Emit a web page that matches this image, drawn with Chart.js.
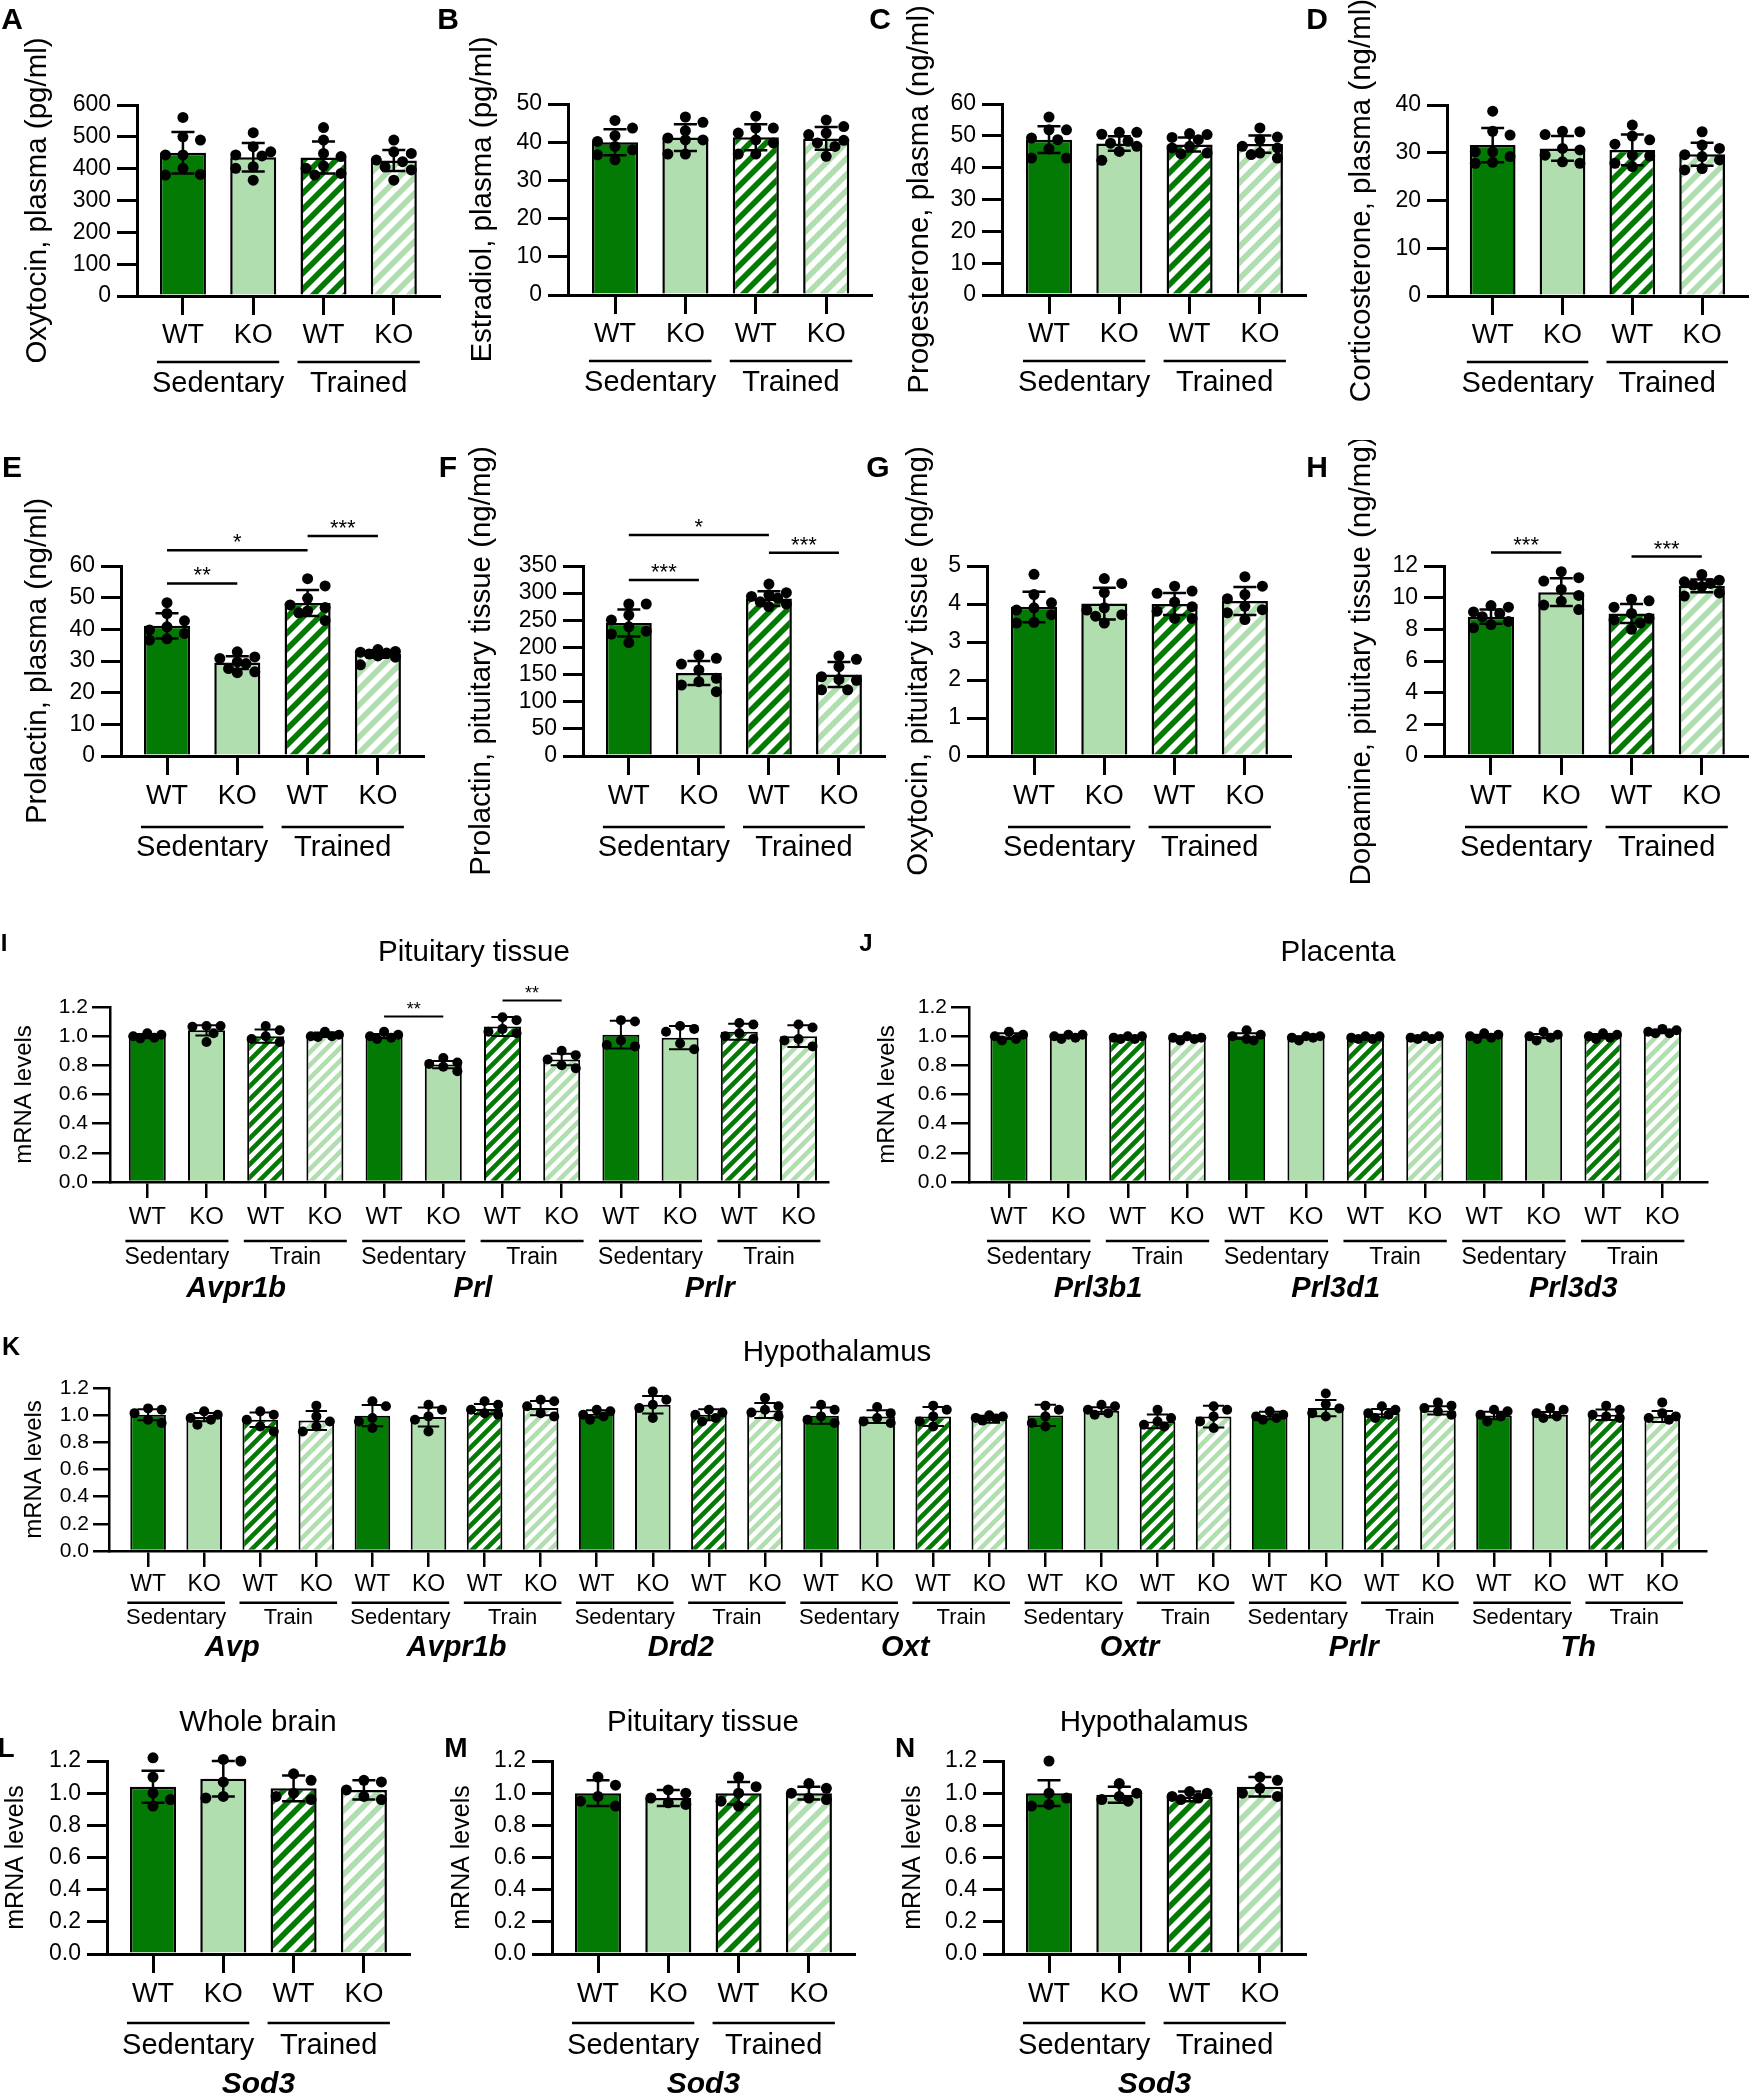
<!DOCTYPE html>
<html><head><meta charset="utf-8">
<script src="https://cdn.jsdelivr.net/npm/chart.js@4.4.1/dist/chart.umd.min.js"></script>
<style>
html,body{margin:0;padding:0;background:#fff;}
body{position:relative;width:1753px;height:2100px;overflow:hidden;}
canvas{position:absolute;}
.letter{position:absolute;font-family:'Liberation Sans',Arial,sans-serif;font-weight:bold;line-height:1;transform:translate(-50%,-50%);color:#000;}
</style></head><body>
<script>
// ------------------------- DATA -------------------------
const GENOTYPES = ['WT', 'KO', 'WT', 'KO'];
const TRAINING = ['Sedentary', 'Trained'];
const TRAINING_SHORT = ['Sedentary', 'Train'];

// A  Oxytocin, plasma (pg/ml)
const oxytocinPlasmaMean = [450, 436, 435, 426];
const oxytocinPlasmaSD = [65, 45, 50, 33];
const oxytocinPlasmaPoints = [[561,500,490,443,443,401,380,382],[513,469,453,443,440,406,401,364],[529,490,448,438,409,401,385,380],[490,453,448,427,422,406,396,364]];
// B  Estradiol, plasma (pg/ml)
const estradiolMean = [40.0, 41.2, 41.3, 41.0];
const estradiolSD = [3.4, 3.5, 3.4, 3.0];
const estradiolPoints = [[45.7,43.7,41.7,40.2,38.9,38.0,36.7,35.4],[46.6,45.2,43.0,41.1,40.6,40.6,36.9,36.9],[46.8,43.7,43.7,42.4,40.6,39.8,36.9,36.9],[45.8,44.1,42.4,42.0,40.5,39.8,38.9,36.3]];
// C  Progesterone, plasma (ng/ml)
const progesteroneMean = [48.8, 47.6, 47.3, 47.4];
const progesteroneSD = [4.2, 2.3, 2.2, 2.7];
const progesteronePoints = [[55.9,51.9,51.9,49.3,48.8,45.9,43.0,43.0],[51.1,51.1,50.5,48.3,47.7,46.7,45.1,42.3],[50.7,50.4,49.5,48.8,46.7,46.2,44.6,44.4],[52.5,49.6,48.8,46.7,46.2,44.6,44.1,43.0]];
// D  Corticosterone, plasma (ng/ml)
const corticosteroneMean = [31.6, 30.9, 30.6, 29.7];
const corticosteroneSD = [3.6, 2.6, 3.2, 2.4];
const corticosteronePoints = [[38.7,34.5,33.7,30.2,30.2,29.2,28.0,27.8],[34.5,34.4,33.8,30.9,30.6,29.5,28.1,27.8],[35.8,33.5,32.7,31.8,29.5,29.3,27.8,27.1],[34.4,31.6,30.9,29.6,29.2,28.5,26.7,26.4]];
// E  Prolactin, plasma (ng/ml)
const prolactinPlasmaMean = [41.1, 29.5, 48.3, 32.2];
const prolactinPlasmaSD = [4.0, 2.0, 4.1, 1.2];
const prolactinPlasmaPoints = [[48.4,45.0,42.7,40.8,39.8,38.7,37.0,36.6],[32.9,31.3,30.8,29.7,29.2,27.6,26.6,26.3],[56.0,53.7,49.8,47.7,46.9,45.8,45.2,42.8],[33.6,33.0,32.8,32.5,32.2,31.6,31.2,28.8]];
const prolactinPlasmaSig = [{from:0,to:1,level:54.5,label:'**'},{from:0,to:2,level:65,label:'*'},{from:2,to:3,level:69.5,label:'***'}];
// F  Prolactin, pituitary tissue (ng/mg)
const prolactinPituitaryMean = [245, 153, 290, 150];
const prolactinPituitarySD = [25, 22, 13.5, 23];
const prolactinPituitaryPoints = [[280,280,259.7,250.5,238,230,224.7,208.7],[186,180,169.4,158.4,143,137,130.8,118.5],[316.8,300.8,297,294,291,284,280,275],[184,178,164.5,146,141,139.4,122,122]];
const prolactinPituitarySig = [{from:0,to:1,level:324,label:'***'},{from:0,to:2,level:407,label:'*'},{from:2,to:3,level:374.5,label:'***'}];
// G  Oxytocin, pituitary tissue (ng/mg)
const oxytocinPituitaryMean = [3.92, 4.01, 4.0, 4.08];
const oxytocinPituitarySD = [0.4, 0.42, 0.29, 0.37];
const oxytocinPituitaryPoints = [[4.78,4.25,4.03,3.90,3.84,3.72,3.52,3.50],[4.67,4.54,4.30,3.90,3.84,3.72,3.68,3.50],[4.47,4.34,4.28,4.05,3.93,3.81,3.62,3.62],[4.72,4.47,4.25,4.14,3.94,3.85,3.77,3.59]];
// H  Dopamine, pituitary tissue (ng/mg)
const dopamineMean = [8.8, 10.35, 9.0, 10.75];
const dopamineSD = [0.45, 0.88, 0.6, 0.4];
const dopaminePoints = [[9.5,9.4,9.1,9.0,8.8,8.5,8.3,8.1],[11.64,11.26,11.05,10.52,10.14,9.78,9.53,9.25],[9.9,9.8,9.4,9.0,8.7,8.6,8.4,8.0],[11.47,11.1,11.0,10.9,10.8,10.7,10.3,10.1]];
const dopamineSig = [{from:0,to:1,level:12.85,label:'***'},{from:2,to:3,level:12.6,label:'***'}];
// I  Pituitary tissue mRNA
const pituitaryGenes = ['Avpr1b', 'Prl', 'Prlr'];
const pituitaryMean = [1.0, 1.04, 1.0, 1.01, 1.0, 0.805, 1.067, 0.84, 1.01, 0.99, 1.03, 1.0];
const pituitarySD = [0.015, 0.035, 0.045, 0.015, 0.015, 0.025, 0.065, 0.04, 0.095, 0.08, 0.055, 0.075];
const pituitaryPoints = [[1.02,1.01,1.0,0.99,0.985],[1.07,1.07,1.065,1.02,0.96],[1.07,1.04,1.0,0.98,0.96],[1.03,1.01,1.0,1.0,0.995],[1.03,1.01,1.0,0.99,0.98],[0.85,0.82,0.81,0.79,0.76],[1.13,1.11,1.05,1.03,1.02],[0.9,0.87,0.84,0.8,0.78],[1.11,1.1,0.97,0.94,0.93],[1.07,1.05,1.03,0.95,0.91],[1.09,1.08,1.02,1.0,0.98],[1.08,1.06,0.98,0.97,0.93]];
const pituitarySig = [{from:4,to:5,level:1.135,label:'**'},{from:6,to:7,level:1.245,label:'**'}];
// J  Placenta mRNA
const placentaGenes = ['Prl3b1', 'Prl3d1', 'Prl3d3'];
const placentaMean = [1.0, 1.0, 0.99, 0.99, 1.0, 0.99, 0.99, 0.99, 1.0, 1.0, 1.0, 1.03];
const placentaSD = [0.02, 0.01, 0.01, 0.01, 0.02, 0.01, 0.01, 0.01, 0.01, 0.015, 0.015, 0.01];
const placentaPoints = [[1.03,1.01,1.0,0.98,0.97],[1.01,1.01,1.0,0.99,0.98],[1.0,1.0,0.99,0.98,0.98],[1.0,0.99,0.99,0.98,0.97],[1.04,1.01,1.0,0.98,0.97],[1.0,1.0,0.99,0.99,0.97],[1.0,1.0,0.99,0.98,0.98],[1.0,1.0,0.99,0.98,0.98],[1.02,1.01,1.0,0.99,0.98],[1.03,1.01,1.0,0.99,0.97],[1.02,1.01,1.0,0.99,0.98],[1.05,1.04,1.03,1.02,1.02]];
// K  Hypothalamus mRNA
const hypothalamusGenes = ['Avp', 'Avpr1b', 'Drd2', 'Oxt', 'Oxtr', 'Prlr', 'Th'];
const hypothalamusMean = [1.003,0.986,0.966,0.961, 0.996,0.986,1.045,1.052, 1.01,1.077,1.003,1.035, 0.996,0.99,0.99,0.97, 0.998,1.033,0.954,0.99, 0.998,1.052,1.015,1.035, 0.998,1.003,1.003,0.99];
const hypothalamusSD = [0.04,0.03,0.054,0.07, 0.078,0.07,0.037,0.052, 0.027,0.065,0.04,0.055, 0.06,0.047,0.07,0.025, 0.078,0.025,0.05,0.08, 0.028,0.06,0.03,0.03, 0.028,0.02,0.038,0.04];
const hypothalamusPoints = [[1.05,1.04,1.015,0.966,0.942],[1.028,1.003,0.979,0.966,0.929],[1.028,1.003,0.966,0.917,0.88],[1.07,0.991,0.954,0.917,0.88],
 [1.102,1.065,0.979,0.954,0.905],[1.077,1.04,0.991,0.966,0.88],[1.102,1.077,1.04,1.015,1.003],[1.114,1.102,1.065,1.015,0.991],
 [1.04,1.028,1.003,0.991,0.966],[1.175,1.114,1.077,1.052,0.979],[1.04,1.02,1.003,0.979,0.954],[1.126,1.065,1.04,1.02,0.991],
 [1.077,1.04,0.991,0.966,0.942],[1.06,1.015,0.979,0.954,0.942],[1.07,1.04,0.991,0.954,0.917],[1.0,0.99,0.98,0.975,0.96],
 [1.07,1.04,0.991,0.942,0.917],[1.077,1.065,1.04,1.015,1.003],[1.04,0.979,0.954,0.929,0.917],[1.065,1.04,0.991,0.954,0.905],
 [1.028,1.003,0.991,0.979,0.966],[1.16,1.08,1.05,1.015,0.99],[1.065,1.04,1.015,1.003,0.979],[1.094,1.07,1.052,1.028,1.003],
 [1.04,1.028,1.003,0.991,0.954],[1.052,1.04,1.015,0.991,0.979],[1.07,1.04,1.003,0.991,0.979],[1.094,1.015,0.991,0.979,0.966]];
// L  Whole brain Sod3
const sod3BrainMean = [1.04, 1.09, 1.03, 1.02];
const sod3BrainSD = [0.1, 0.11, 0.08, 0.06];
const sod3BrainPoints = [[1.22,1.1,1.0,0.96,0.92],[1.21,1.2,1.07,0.98,0.97],[1.12,1.08,1.0,0.98,0.96],[1.08,1.07,1.02,0.98,0.96]];
// M  Pituitary tissue Sod3
const sod3PituitaryMean = [1.0, 0.97, 1.0, 1.0];
const sod3PituitarySD = [0.08, 0.05, 0.07, 0.04];
const sod3PituitaryPoints = [[1.1,1.05,0.98,0.95,0.92],[1.02,1.0,0.97,0.94,0.93],[1.1,1.04,1.0,0.95,0.92],[1.06,1.03,1.0,0.97,0.96]];
// N  Hypothalamus Sod3
const sod3HypothalamusMean = [1.0, 0.99, 0.98, 1.04];
const sod3HypothalamusSD = [0.08, 0.05, 0.03, 0.06];
const sod3HypothalamusPoints = [[1.2,1.0,0.97,0.93,0.92],[1.06,1.0,0.98,0.96,0.95],[1.01,1.0,0.98,0.97,0.96],[1.1,1.08,1.03,1.0,0.98]];

// ------------------------- STYLE / LAYOUT -------------------------
const FONT = "'Liberation Sans', Arial, Helvetica, sans-serif";
const DARK = '#037a03';
const LIGHT = '#b0deae';
const STYLE_HORMONE = {yFont:23, xFont:27, groupFont:29, geneFont:30, yTitleFont:29.5, titleFont:29.5, xTickLen:19, yTickLen:20, yTickPad:6, axisW:3, barBorder:2.5, errW:2.5, dotR:5.5, barPct:0.655, capFrac:0.5, groupExt:0.37, groupLineW:2.5, sigFont:22, sigW:2.5, hatch:16};
const STYLE_MRNA = {yFont:21, xFont:24, groupFont:23, geneFont:29, yTitleFont:24, titleFont:29.5, xTickLen:16, yTickLen:18, yTickPad:4, axisW:2.5, barBorder:2, errW:2, dotR:5, barPct:0.625, capFrac:0.6, groupExt:0.37, groupLineW:2.5, sigFont:18, sigW:2, hatch:13};
const STYLE_K = Object.assign({}, STYLE_MRNA, {xFont:23, groupFont:22, yTickLen:16, barPct:0.635});
const STYLE_SOD = Object.assign({}, STYLE_HORMONE, {yTitleFont:25});
const ROW1 = {labelC:40, line:66, group:88};
const ROW2 = {labelC:41, line:71, group:92};
const ROW5 = {labelC:41, line:69, group:92, gene:131};
const ROWIJ = {labelC:35, line:59, group:75.6, gene:106.6};
const ROWK = {labelC:34, line:51.7, group:67.3, gene:97.3};

function repeatList(arr, times) { const out = []; for (let i = 0; i < times; i++) out.push(...arr); return out; }

const panels = [
 {canvas:[0,0,445,420], axisX:137, firstX:183, spacing:70.4, gapR:0.65, topY:105, zeroY:296, yMax:600, yStep:100, yDec:0, yTitle:'Oxytocin, plasma (pg/ml)', yTitleX:38, mean:oxytocinPlasmaMean, sd:oxytocinPlasmaSD, points:oxytocinPlasmaPoints, xLabels:GENOTYPES, groups:TRAINING, offs:ROW1, style:STYLE_HORMONE},
 {canvas:[445,0,433,420], axisX:568, firstX:615, spacing:70.4, gapR:0.65, topY:104, zeroY:295, yMax:50, yStep:10, yDec:0, yTitle:'Estradiol, plasma (pg/ml)', yTitleX:483, mean:estradiolMean, sd:estradiolSD, points:estradiolPoints, xLabels:GENOTYPES, groups:TRAINING, offs:ROW1, style:STYLE_HORMONE},
 {canvas:[878,0,434,420], axisX:1002, firstX:1049, spacing:70.3, gapR:0.65, topY:104, zeroY:295, yMax:60, yStep:10, yDec:0, yTitle:'Progesterone, plasma (ng/ml)', yTitleX:920, mean:progesteroneMean, sd:progesteroneSD, points:progesteronePoints, xLabels:GENOTYPES, groups:TRAINING, offs:ROW1, style:STYLE_HORMONE},
 {canvas:[1312,0,441,420], axisX:1447, firstX:1493, spacing:70.3, gapR:0.65, topY:105, zeroY:296, yMax:40, yStep:10, yDec:0, yTitle:'Corticosterone, plasma (ng/ml)', yTitleX:1362, mean:corticosteroneMean, sd:corticosteroneSD, points:corticosteronePoints, xLabels:GENOTYPES, groups:TRAINING, offs:ROW1, style:STYLE_HORMONE},
 {canvas:[0,440,445,460], axisX:121, firstX:167, spacing:70.3, gapR:0.65, topY:566, zeroY:756, yMax:60, yStep:10, yDec:0, yTitle:'Prolactin, plasma (ng/ml)', yTitleX:38, mean:prolactinPlasmaMean, sd:prolactinPlasmaSD, points:prolactinPlasmaPoints, sig:prolactinPlasmaSig, xLabels:GENOTYPES, groups:TRAINING, offs:ROW2, style:STYLE_HORMONE},
 {canvas:[445,440,445,460], axisX:583, firstX:629, spacing:70.3, gapR:0.65, topY:566, zeroY:756, yMax:350, yStep:50, yDec:0, yTitle:'Prolactin, pituitary tissue (ng/mg)', yTitleX:482, mean:prolactinPituitaryMean, sd:prolactinPituitarySD, points:prolactinPituitaryPoints, sig:prolactinPituitarySig, xLabels:GENOTYPES, groups:TRAINING, offs:ROW2, style:STYLE_HORMONE},
 {canvas:[880,440,440,460], axisX:987, firstX:1034, spacing:70.3, gapR:0.65, topY:566, zeroY:756, yMax:5, yStep:1, yDec:0, yTitle:'Oxytocin, pituitary tissue (ng/mg)', yTitleX:919, mean:oxytocinPituitaryMean, sd:oxytocinPituitarySD, points:oxytocinPituitaryPoints, xLabels:GENOTYPES, groups:TRAINING, offs:ROW2, style:STYLE_HORMONE},
 {canvas:[1320,440,433,460], axisX:1444, firstX:1491, spacing:70.3, gapR:0.65, topY:566, zeroY:756, yMax:12, yStep:2, yDec:0, yTitle:'Dopamine, pituitary tissue (ng/mg)', yTitleX:1362, mean:dopamineMean, sd:dopamineSD, points:dopaminePoints, sig:dopamineSig, xLabels:GENOTYPES, groups:TRAINING, offs:ROW2, style:STYLE_HORMONE},
 {canvas:[0,920,850,400], axisX:110, firstX:147.3, spacing:59.2, gapR:0.5, topY:1007, zeroY:1182, yMax:1.2, yStep:0.2, yDec:1, yTitle:'mRNA levels', yTitleX:24, title:'Pituitary tissue', titleX:474, titleY:953, mean:pituitaryMean, sd:pituitarySD, points:pituitaryPoints, sig:pituitarySig, xLabels:repeatList(GENOTYPES,3), groups:repeatList(TRAINING_SHORT,3), genes:pituitaryGenes, offs:ROWIJ, style:STYLE_MRNA},
 {canvas:[850,920,903,400], axisX:969, firstX:1009, spacing:59.4, gapR:0.76, topY:1007, zeroY:1182, yMax:1.2, yStep:0.2, yDec:1, yTitle:'mRNA levels', yTitleX:887, title:'Placenta', titleX:1338, titleY:953, mean:placentaMean, sd:placentaSD, points:placentaPoints, xLabels:repeatList(GENOTYPES,3), groups:repeatList(TRAINING_SHORT,3), genes:placentaGenes, offs:ROWIJ, style:STYLE_MRNA},
 {canvas:[0,1320,1753,370], axisX:109, firstX:148.1, spacing:56.08, gapR:0.79, topY:1388, zeroY:1551, yMax:1.2, yStep:0.2, yDec:1, yTitle:'mRNA levels', yTitleX:34, title:'Hypothalamus', titleX:837, titleY:1353, mean:hypothalamusMean, sd:hypothalamusSD, points:hypothalamusPoints, xLabels:repeatList(GENOTYPES,7), groups:repeatList(TRAINING_SHORT,7), genes:hypothalamusGenes, offs:ROWK, style:STYLE_K},
 {canvas:[0,1690,445,410], axisX:107, firstX:153, spacing:70.3, gapR:0.65, topY:1761, zeroY:1954, yMax:1.2, yStep:0.2, yDec:1, yTitle:'mRNA levels', yTitleX:16, title:'Whole brain', titleX:258, titleY:1723, mean:sod3BrainMean, sd:sod3BrainSD, points:sod3BrainPoints, xLabels:GENOTYPES, groups:TRAINING, genes:['Sod3'], offs:ROW5, style:STYLE_SOD},
 {canvas:[445,1690,445,410], axisX:552, firstX:598, spacing:70.3, gapR:0.65, topY:1761, zeroY:1954, yMax:1.2, yStep:0.2, yDec:1, yTitle:'mRNA levels', yTitleX:462, title:'Pituitary tissue', titleX:703, titleY:1723, mean:sod3PituitaryMean, sd:sod3PituitarySD, points:sod3PituitaryPoints, xLabels:GENOTYPES, groups:TRAINING, genes:['Sod3'], offs:ROW5, style:STYLE_SOD},
 {canvas:[890,1690,445,410], axisX:1003, firstX:1049, spacing:70.3, gapR:0.65, topY:1761, zeroY:1954, yMax:1.2, yStep:0.2, yDec:1, yTitle:'mRNA levels', yTitleX:913, title:'Hypothalamus', titleX:1154, titleY:1723, mean:sod3HypothalamusMean, sd:sod3HypothalamusSD, points:sod3HypothalamusPoints, xLabels:GENOTYPES, groups:TRAINING, genes:['Sod3'], offs:ROW5, style:STYLE_SOD}
];

const panelLetters = [['A',12,19,30],['B',448,19,30],['C',880,19,30],['D',1317,19,30],['E',12,467,30],['F',448,467,30],['G',878,467,30],['H',1317,467,30],['I',4,943,24],['J',866,943,24],['K',11,1346,25],['L',6,1748,28],['M',456,1748,28],['N',905,1748,28]];

// ------------------------- DRAWING -------------------------
function hatchTile(color, size) {
  const c = document.createElement('canvas');
  c.width = c.height = size;
  const g = c.getContext('2d');
  g.fillStyle = '#ffffff'; g.fillRect(0, 0, size, size);
  g.strokeStyle = color; g.lineWidth = size / Math.SQRT2 / 2;
  g.beginPath();
  for (const o of [-size, 0, size]) { g.moveTo(o - 3, size + 3); g.lineTo(o + size + 3, -3); }
  g.stroke();
  return c;
}

function swarmOffsets(values, pxPerUnit, step, r) {
  const order = values.map((v, i) => i).sort((a, b) => values[b] - values[a]);
  const placed = []; const offs = new Array(values.length).fill(0);
  const minD = 2 * r * 0.95; let side = 1;
  order.forEach(i => {
    const y = values[i] * pxPerUnit;
    const cands = [0, side * step, -side * step, side * step / 2, -side * step / 2];
    let best = 0, bestScore = -Infinity;
    for (const c of cands) {
      let md = Infinity;
      placed.forEach(q => { md = Math.min(md, Math.hypot(q.x - c, q.y - y)); });
      if (md >= minD) { best = c; break; }
      if (md > bestScore) { bestScore = md; best = c; }
    }
    if (best !== 0) side = best > 0 ? -1 : 1;
    offs[i] = best; placed.push({x: best, y});
  });
  return offs;
}

function extrasPlugin(p, cl, ct) {
  const s = p.style;
  return {
    id: 'extras',
    afterDatasetDraw(chart, args) {
      if (args.index !== 0) return;
      const ctx = chart.ctx, ys = chart.scales.y;
      ctx.save(); ctx.strokeStyle = '#000'; ctx.lineWidth = s.errW;
      args.meta.data.forEach((bar, i) => {
        const {x, width} = bar.getProps(['x', 'width'], true);
        const yt = ys.getPixelForValue(p.mean[i] + p.sd[i]);
        const yb = ys.getPixelForValue(p.mean[i] - p.sd[i]);
        const hw = width * s.capFrac / 2;
        ctx.beginPath();
        ctx.moveTo(x, yt); ctx.lineTo(x, yb);
        ctx.moveTo(x - hw, yt); ctx.lineTo(x + hw, yt);
        ctx.moveTo(x - hw, yb); ctx.lineTo(x + hw, yb);
        ctx.stroke();
      });
      ctx.restore();
    },
    afterDraw(chart) {
      const ctx = chart.ctx, xs = chart.scales.x, ys = chart.scales.y;
      const zero = ys.getPixelForValue(0);
      const sp = xs.getPixelForValue(1) - xs.getPixelForValue(0);
      ctx.save();
      ctx.fillStyle = '#000'; ctx.strokeStyle = '#000';
      (p.sig || []).forEach(sg => {
        const y = ys.getPixelForValue(sg.level);
        const x1 = xs.getPixelForValue(sg.from), x2 = xs.getPixelForValue(sg.to);
        ctx.lineWidth = s.sigW;
        ctx.beginPath(); ctx.moveTo(x1, y); ctx.lineTo(x2, y); ctx.stroke();
        ctx.font = s.sigFont + 'px ' + FONT; ctx.textAlign = 'center'; ctx.textBaseline = 'alphabetic';
        ctx.fillText(sg.label, (x1 + x2) / 2, y - 1);
      });
      ctx.textAlign = 'center'; ctx.textBaseline = 'middle';
      ctx.lineWidth = s.groupLineW;
      ctx.font = s.groupFont + 'px ' + FONT;
      p.groups.forEach((lab, k) => {
        const a = xs.getPixelForValue(2 * k) - sp * s.groupExt;
        const b = xs.getPixelForValue(2 * k + 1) + sp * s.groupExt;
        const yl = zero + p.offs.line;
        ctx.beginPath(); ctx.moveTo(a, yl); ctx.lineTo(b, yl); ctx.stroke();
        ctx.fillText(lab, (a + b) / 2, zero + p.offs.group);
      });
      if (p.genes) {
        ctx.font = 'italic bold ' + s.geneFont + 'px ' + FONT;
        p.genes.forEach((g, j) => {
          const c = (xs.getPixelForValue(4 * j) + xs.getPixelForValue(4 * j + 3)) / 2;
          ctx.fillText(g, c, zero + p.offs.gene);
        });
      }
      if (p.title) {
        ctx.font = s.titleFont + 'px ' + FONT;
        ctx.fillText(p.title, p.titleX - cl, p.titleY - ct);
      }
      ctx.restore();
    }
  };
}

function buildPanel(p) {
  const s = p.style;
  const [cl, ct, cw, ch] = p.canvas;
  const cv = document.createElement('canvas');
  cv.width = cw; cv.height = ch;
  cv.style.left = cl + 'px'; cv.style.top = ct + 'px';
  cv.style.width = cw + 'px'; cv.style.height = ch + 'px';
  document.body.appendChild(cv);
  const ctx = cv.getContext('2d');
  const n = p.mean.length;
  const gapL = (p.firstX - p.axisX) / p.spacing;
  const plotRight = p.axisX + (gapL + n - 1 + p.gapR) * p.spacing;
  const pxPerUnit = (p.zeroY - p.topY) / p.yMax;
  const barW = p.spacing * s.barPct;
  const fills = [DARK, LIGHT, ctx.createPattern(hatchTile(DARK, s.hatch), 'repeat'), ctx.createPattern(hatchTile(LIGHT, s.hatch), 'repeat')];
  const barData = p.mean.map((m, i) => ({x: i, y: m}));
  const dotData = [];
  p.points.forEach((vals, i) => {
    const offs = swarmOffsets(vals, pxPerUnit, barW * 0.38, s.dotR);
    vals.forEach((v, k) => dotData.push({x: i + offs[k] / p.spacing, y: v}));
  });
  const tickPad = p.offs.labelC - s.xTickLen - s.xFont * 0.6;
  new Chart(ctx, {
    type: 'bar',
    data: {datasets: [
      {type: 'bar', data: barData, backgroundColor: p.mean.map((_, i) => fills[i % 4]), borderColor: '#000', borderWidth: s.barBorder, borderSkipped: 'start', barPercentage: s.barPct, categoryPercentage: 1, order: 2, clip: false},
      {type: 'scatter', data: dotData, backgroundColor: '#000', borderWidth: 0, pointRadius: s.dotR, pointHoverRadius: s.dotR, order: 1, clip: false}
    ]},
    options: {
      responsive: false, animation: false, events: [], devicePixelRatio: 1,
      layout: {padding: {left: 0, top: p.topY - ct, right: cl + cw - plotRight, bottom: 0}},
      plugins: {legend: {display: false}, tooltip: {enabled: false}, title: {display: false}},
      scales: {
        x: {type: 'linear', bounds: 'data', offset: false, min: -gapL, max: n - 1 + p.gapR, z: 1,
            afterBuildTicks: ax => { ax.ticks = p.mean.map((_, i) => ({value: i})); },
            afterFit: ax => { ax.height = ct + ch - p.zeroY; },
            ticks: {autoSkip: false, maxRotation: 0, minRotation: 0, padding: tickPad, color: '#000', font: {family: FONT, size: s.xFont}, callback: v => p.xLabels[v]},
            grid: {display: true, offset: false, drawOnChartArea: false, drawTicks: true, tickLength: s.xTickLen, color: '#000', tickColor: '#000', lineWidth: s.axisW, tickWidth: s.axisW},
            border: {display: true, color: '#000', width: s.axisW}},
        y: {type: 'linear', min: 0, max: p.yMax, z: 1,
            afterFit: ax => { ax.width = p.axisX - cl; },
            ticks: {autoSkip: false, stepSize: p.yStep, padding: s.yTickPad, color: '#000', font: {family: FONT, size: s.yFont}, callback: v => v.toFixed(p.yDec)},
            grid: {display: true, drawOnChartArea: false, drawTicks: true, tickLength: s.yTickLen, color: '#000', tickColor: '#000', lineWidth: s.axisW, tickWidth: s.axisW},
            border: {display: true, color: '#000', width: s.axisW},
            title: {display: true, text: p.yTitle, color: '#000', font: {family: FONT, size: s.yTitleFont}, padding: {top: p.yTitleX - cl - s.yTitleFont * 0.6, bottom: 0}}}
      }
    },
    plugins: [extrasPlugin(p, cl, ct)]
  });
}

panels.forEach(buildPanel);
panelLetters.forEach(([t, x, y, size]) => {
  const d = document.createElement('div');
  d.className = 'letter'; d.textContent = t;
  d.style.left = x + 'px'; d.style.top = y + 'px'; d.style.fontSize = size + 'px';
  document.body.appendChild(d);
});
</script>
</body></html>
